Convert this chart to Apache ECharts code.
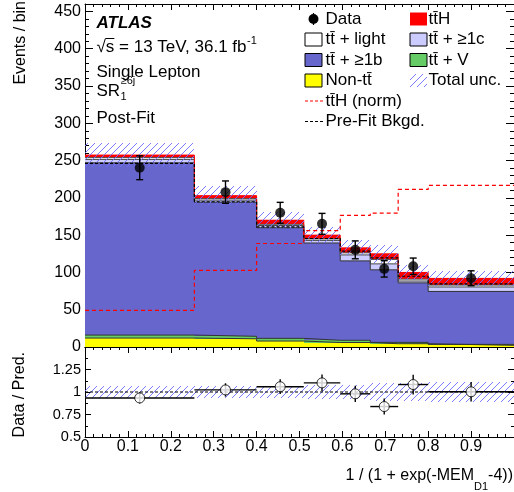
<!DOCTYPE html>
<html><head><meta charset="utf-8">
<script src="https://cdn.jsdelivr.net/npm/echarts@6/dist/echarts.min.js"></script>
<style>html,body{margin:0;padding:0;background:#fff}#c{width:514px;height:492px}</style>
</head><body><div id="c"></div>
<script>
// ---- data ----
const binEdges = [0, 0.255, 0.4, 0.51, 0.595, 0.665, 0.73, 0.8, 1.0];
const nonTT   = [12, 11, 8, 6, 6, 4.4, 4.4, 2.2];
const ttV     = [4, 3.3, 3.6, 3, 3, 1.8, 1.8, 1.3];
const ttb     = [231, 180, 148.4, 130.5, 106.5, 97.3, 79.8, 71];
const ttc     = [4.6, 2.7, 3, 3.5, 8, 8, 2.5, 6];
const ttlight = [2.4, 2, 1.5, 2, 2.8, 5.8, 2.5, 2.5];
const ttH     = [3.4, 4, 5.5, 5, 6.7, 7.7, 9, 9];
const totalUnc = [16, 13, 11, 11, 10, 12, 10, 10];
const dataVals = [240.4, 207.7, 180, 165.2, 130.3, 104.8, 108.3, 92.2];
const dataErr  = [16, 15, 14, 14, 12, 11, 11, 10];
const ttHNorm  = [49, 102.7, 138.8, 156, 176.4, 179.5, 211.3, 216.7];
const preFitBkg = [246.2, 194.8, 161, 145.5, 128.5, 119.5, 94.9, 84.6];
const yMainTicks = [0, 50, 100, 150, 200, 250, 300, 350, 400, 450];
const yRatioTicks = [0.5, 0.75, 1, 1.25];

const FONT = '"Liberation Sans", Arial, Helvetica, sans-serif';
const TB = 't\u0304';
const nb = binEdges.length - 1;

const mctx = document.createElement('canvas').getContext('2d');
function tw(s, size, extra) { mctx.font = (extra || '') + ' ' + size + 'px ' + FONT; return mctx.measureText(s).width; }

function hatchCanvas() {
  const c = document.createElement('canvas'); c.width = 7; c.height = 7;
  const g = c.getContext('2d');
  g.strokeStyle = 'rgba(110,110,255,0.9)'; g.lineWidth = 1;
  g.beginPath();
  g.moveTo(-1, 8); g.lineTo(8, -1);
  g.moveTo(-1, 1); g.lineTo(1, -1);
  g.moveTo(6, 8); g.lineTo(8, 6);
  g.stroke();
  return c;
}
const HATCH = { image: hatchCanvas(), repeat: 'repeat' };

const comps = [
  { vals: nonTT, color: '#ffff00', line: '#333' },
  { vals: ttV, color: '#66cc66', line: '#333' },
  { vals: ttb, color: '#6666cc', line: '#333' },
  { vals: ttc, color: '#ccccff', line: '#444' },
  { vals: ttlight, color: '#ffffff', line: '#555' },
  { vals: ttH, color: '#ff0000', line: '#ff0000' }
];
const cum = new Array(nb).fill(0);
const stacks = comps.map(c => {
  const items = [];
  for (let i = 0; i < nb; i++) {
    const b = cum[i]; const t = b + c.vals[i];
    items.push([binEdges[i], binEdges[i + 1], b, t]);
    cum[i] = t;
  }
  return { c, items };
});
const totals = cum.slice();

function rectSeries(data, fill, xi, yi, z) {
  return {
    type: 'custom', xAxisIndex: xi, yAxisIndex: yi, z: z, silent: true, animation: false, clip: true,
    encode: { x: [0, 1], y: [2, 3] }, data: data,
    renderItem: (p, api) => {
      const a = api.coord([api.value(0), api.value(3)]);
      const b = api.coord([api.value(1), api.value(2)]);
      const x0 = Math.round(a[0]), x1 = Math.round(b[0]), y0 = Math.round(a[1]), y1 = Math.round(b[1]);
      return { type: 'rect', shape: { x: x0, y: y0, width: x1 - x0, height: y1 - y0 }, style: { fill: fill } };
    }
  };
}
function stepPts(vals) {
  const pts = [];
  for (let i = 0; i < nb; i++) { pts.push([binEdges[i], vals[i]]); pts.push([binEdges[i + 1], vals[i]]); }
  return pts;
}
function lineSeries(pts, color, width, dash, xi, yi, z) {
  return {
    type: 'line', xAxisIndex: xi, yAxisIndex: yi, z: z, data: pts, showSymbol: false, symbol: 'none',
    silent: true, animation: false, lineStyle: { color: color, width: width, type: dash || 'solid' }
  };
}

const series = [];
stacks.forEach(s => series.push(rectSeries(s.items, s.c.color, 0, 0, 1)));
stacks.forEach(s => series.push(lineSeries(stepPts(s.items.map(d => d[3])), s.c.line, 1, null, 0, 0, 2)));
series.push(rectSeries(totals.map((t, i) => [binEdges[i], binEdges[i + 1], t - totalUnc[i], t + totalUnc[i]]), HATCH, 0, 0, 3));
series.push(lineSeries(stepPts(preFitBkg), '#000', 1.2, [3, 2], 0, 0, 4));
series.push(lineSeries(stepPts(ttHNorm), '#ff0000', 1.2, [4, 3], 0, 0, 4));
const centers = [];
for (let i = 0; i < nb; i++) centers.push((binEdges[i] + binEdges[i + 1]) / 2);
series.push({
  type: 'custom', xAxisIndex: 0, yAxisIndex: 0, z: 5, silent: true, animation: false,
  encode: { x: 0, y: 1 },
  data: dataVals.map((v, i) => [centers[i], v, dataErr[i]]),
  renderItem: (p, api) => {
    const x = api.value(0), y = api.value(1), e = api.value(2);
    const lo = api.coord([x, y - e]), hi = api.coord([x, y + e]);
    const st = { stroke: '#000', lineWidth: 1.4 };
    return { type: 'group', children: [
      { type: 'line', shape: { x1: lo[0], y1: lo[1], x2: hi[0], y2: hi[1] }, style: st },
      { type: 'line', shape: { x1: lo[0] - 3.5, y1: lo[1], x2: lo[0] + 3.5, y2: lo[1] }, style: st },
      { type: 'line', shape: { x1: hi[0] - 3.5, y1: hi[1], x2: hi[0] + 3.5, y2: hi[1] }, style: st }
    ]};
  }
});
series.push({
  type: 'scatter', xAxisIndex: 0, yAxisIndex: 0, z: 6, silent: true, animation: false,
  symbol: 'circle', symbolSize: 10, itemStyle: { color: '#000' },
  data: dataVals.map((v, i) => [centers[i], v])
});
series.push(rectSeries(totals.map((t, i) => [binEdges[i], binEdges[i + 1], 1 - totalUnc[i] / t, 1 + totalUnc[i] / t]), HATCH, 2, 2, 1));
series.push(lineSeries([[0, 1], [1, 1]], '#000', 1.2, [3, 2], 2, 2, 2));
series.push({
  type: 'custom', xAxisIndex: 2, yAxisIndex: 2, z: 5, silent: true, animation: false,
  encode: { x: 2, y: 3 },
  data: dataVals.map((v, i) => [binEdges[i], binEdges[i + 1], centers[i], v / totals[i], dataErr[i] / totals[i]]),
  renderItem: (p, api) => {
    const l = api.value(0), h = api.value(1), x = api.value(2), r = api.value(3), e = api.value(4);
    const a = api.coord([l, r]), b = api.coord([h, r]);
    const lo = api.coord([x, r - e]), hi = api.coord([x, r + e]);
    const st = { stroke: '#000', lineWidth: 1.4 };
    return { type: 'group', children: [
      { type: 'line', shape: { x1: a[0], y1: a[1], x2: b[0], y2: b[1] }, style: st },
      { type: 'line', shape: { x1: lo[0], y1: lo[1], x2: hi[0], y2: hi[1] }, style: st }
    ]};
  }
});
series.push({
  type: 'scatter', xAxisIndex: 2, yAxisIndex: 2, z: 6, silent: true, animation: false,
  symbol: 'circle', symbolSize: 10, itemStyle: { color: '#fff', borderColor: '#000', borderWidth: 1 },
  data: dataVals.map((v, i) => [centers[i], v / totals[i]])
});

function xAx(grid, pos, labels) {
  return {
    type: 'value', gridIndex: grid, position: pos, min: 0, max: 1, interval: 0.1,
    axisLine: { show: true, onZero: false, lineStyle: { color: '#000', width: 1 } },
    axisTick: { show: true, inside: true, length: 6, lineStyle: { color: '#000' } },
    minorTick: { show: true, splitNumber: 5, length: 3, lineStyle: { color: '#000' } },
    splitLine: { show: false }, minorSplitLine: { show: false },
    axisLabel: { show: labels, margin: 2, fontSize: 16, fontFamily: FONT, color: '#000', showMaxLabel: false }
  };
}
function yAx(grid, pos, labels, min, max, interval, split, tickList, major, minor) {
  return {
    type: 'value', gridIndex: grid, position: pos, min: min, max: max, interval: interval,
    axisLine: { show: true, onZero: false, lineStyle: { color: '#000', width: 1 } },
    axisTick: { show: true, inside: true, length: major, lineStyle: { color: '#000' } },
    minorTick: { show: true, splitNumber: split, length: minor, lineStyle: { color: '#000' } },
    splitLine: { show: false }, minorSplitLine: { show: false },
    axisLabel: { show: labels, margin: 4, fontSize: grid === 0 ? 16 : 14.5, fontFamily: FONT, color: '#000',
      formatter: v => tickList.some(t => Math.abs(t - v) < 1e-9) ? String(v) : '' }
  };
}

function T(x, y, text, size, o) {
  o = o || {};
  const el = { type: 'text', x: x, y: y, silent: true, z: 100,
    style: { text: text, fontSize: size, fontFamily: FONT, fill: '#000', align: o.align || 'left',
      verticalAlign: o.va || 'middle', fontWeight: o.w || 'normal', fontStyle: o.it || 'normal' } };
  if (o.rot !== undefined) el.rotation = o.rot;
  return el;
}
const g = [];
const LX = 96.5;
g.push(T(LX, 23, 'ATLAS', 17, { w: 'bold', it: 'italic' }));
const sq = '\u221As = 13 TeV, 36.1 fb';
g.push(T(LX, 47, sq, 17));
g.push(T(LX + tw(sq, 17) + 0.5, 41, '-1', 11));
g.push({ type: 'line', silent: true, z: 100, shape: { x1: LX + tw('\u221A', 17) - 0.5, y1: 38.5, x2: LX + tw('\u221As', 17), y2: 38.5 }, style: { stroke: '#000', lineWidth: 1 } });
g.push(T(LX, 72, 'Single Lepton', 17));
g.push(T(LX, 91, 'SR', 17));
const srw = tw('SR', 17);
g.push(T(LX + srw + 0.5, 81, '\u22656j', 11));
g.push(T(LX + srw + 0.5, 96.5, '1', 11));
g.push(T(LX, 118.5, 'Post-Fit', 17));
const C1B = 305, C1T = 325.5, C2B = 410, C2T = 428.5, BW = 17, BH = 13;
const rows = [19, 39.5, 60, 80.5, 101, 121.5];
function box(x, yc, fill, border) {
  return { type: 'rect', silent: true, z: 100, shape: { x: x, y: yc - BH / 2, width: BW, height: BH },
    style: { fill: fill, stroke: border ? '#000' : null, lineWidth: 1 } };
}
g.push({ type: 'circle', silent: true, z: 100, shape: { cx: 313.5, cy: rows[0], r: 5 }, style: { fill: '#000' } });
g.push({ type: 'line', silent: true, z: 100, shape: { x1: 313.5, y1: rows[0] - 6, x2: 313.5, y2: rows[0] + 6 }, style: { stroke: '#000', lineWidth: 1.2 } });
g.push(T(C1T, rows[0], 'Data', 17));
g.push(box(C2B, rows[0], '#ff0000', false));
g.push(T(C2T, rows[0], 't' + TB + 'H', 17));
g.push(box(C1B, rows[1], '#ffffff', true));
g.push(T(C1T, rows[1], 't' + TB + ' + light', 17));
g.push(box(C2B, rows[1], '#ccccff', true));
g.push(T(C2T, rows[1], 't' + TB + ' + \u22651c', 17));
g.push(box(C1B, rows[2], '#6666cc', true));
g.push(T(C1T, rows[2], 't' + TB + ' + \u22651b', 17));
g.push(box(C2B, rows[2], '#66cc66', true));
g.push(T(C2T, rows[2], 't' + TB + ' + V', 17));
g.push(box(C1B, rows[3], '#ffff00', true));
g.push(T(C1T, rows[3], 'Non-t' + TB, 17));
g.push(box(C2B, rows[3], HATCH, false));
g.push(T(C2T, rows[3], 'Total unc.', 17));
g.push({ type: 'line', silent: true, z: 100, shape: { x1: C1B, y1: rows[4], x2: C1B + 18, y2: rows[4] }, style: { stroke: '#ff0000', lineWidth: 1.2, lineDash: [3, 2] } });
g.push(T(C1T, rows[4], 't' + TB + 'H (norm)', 17));
g.push({ type: 'line', silent: true, z: 100, shape: { x1: C1B, y1: rows[5], x2: C1B + 18, y2: rows[5] }, style: { stroke: '#000', lineWidth: 1.2, lineDash: [3, 2] } });
g.push(T(C1T, rows[5], 'Pre-Fit Bkgd.', 17));
g.push(T(21, 1, 'Events / bin', 16, { align: 'right', rot: Math.PI / 2 }));
g.push(T(20, 352, 'Data / Pred.', 16, { align: 'right', rot: Math.PI / 2 }));
const p1 = '1 / (1 + exp(-MEM', ps = 'D1', p3 = '-4))';
const w1 = tw(p1, 16), wsub = tw(ps, 11), w3 = tw(p3, 16);
const x0 = 513 - (w1 + wsub + w3);
g.push(T(x0, 476, p1, 16));
g.push(T(x0 + w1, 487, ps, 11));
g.push(T(x0 + w1 + wsub, 476, p3, 16));

const chart = echarts.init(document.getElementById('c'), null, { renderer: 'canvas' });
chart.setOption({
  animation: false,
  backgroundColor: '#fff',
  grid: [
    { left: 85, width: 430, top: 4, height: 343 },
    { left: 85, width: 430, top: 347, height: 90 }
  ],
  xAxis: [xAx(0, 'bottom', false), xAx(0, 'top', false), xAx(1, 'bottom', true), xAx(1, 'top', false)],
  yAxis: [
    yAx(0, 'left', true, 0, 460, 50, 5, yMainTicks, 8, 4),
    yAx(0, 'right', false, 0, 460, 50, 5, yMainTicks, 8, 4),
    yAx(1, 'left', true, 0.5, 1.5, 0.25, 2, yRatioTicks, 6, 3),
    yAx(1, 'right', false, 0.5, 1.5, 0.25, 2, yRatioTicks, 6, 3)
  ],
  series: series,
  graphic: g
});
</script></body></html>
